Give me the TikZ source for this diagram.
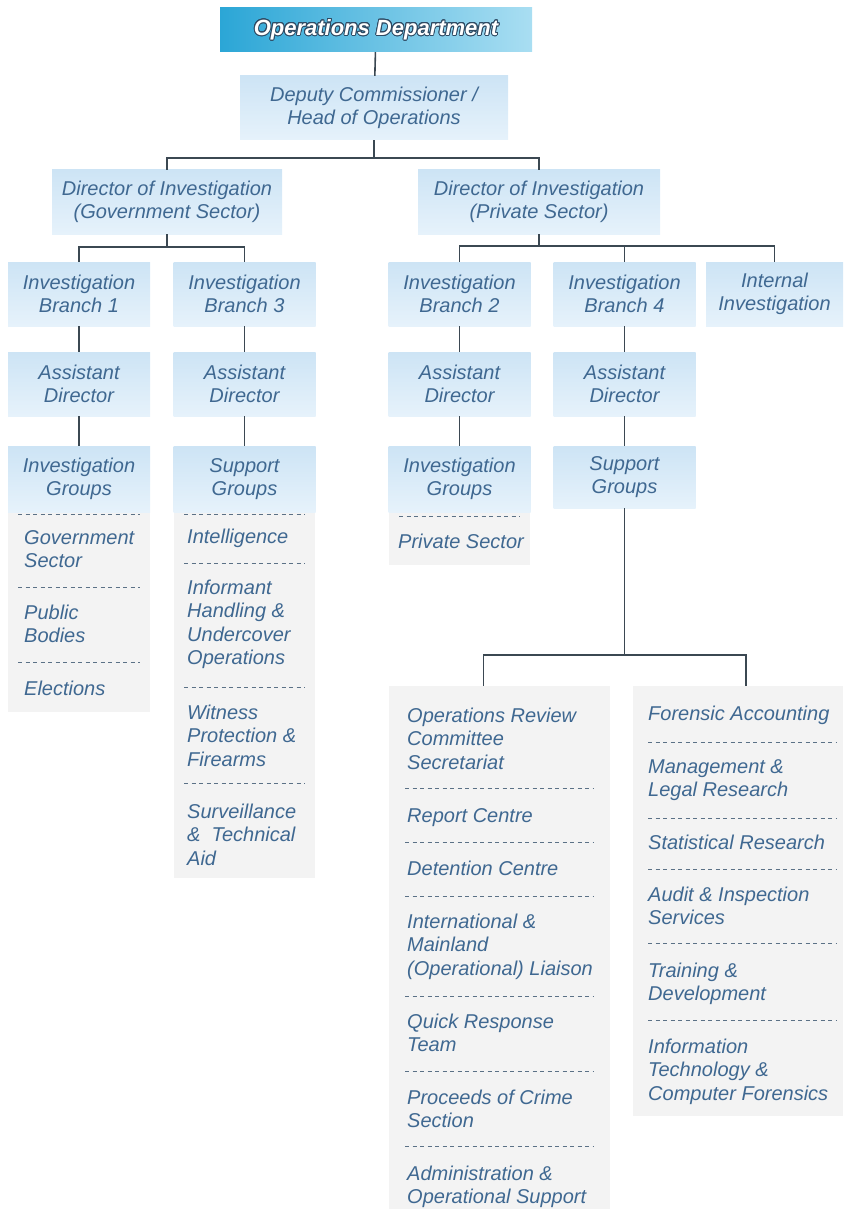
\documentclass[tikz,border=0pt]{standalone}
\usepackage{fontspec}
\setmainfont{Liberation Sans}
\usepackage[copies]{contour}
\usetikzlibrary{positioning, backgrounds}
\definecolor{opsleft}{HTML}{2BA6D6}
\definecolor{opsright}{HTML}{A9DEF2}
\definecolor{opsshade}{HTML}{2E4A63}
\definecolor{boxtop}{HTML}{CDE4F5}
\definecolor{boxbot}{HTML}{E6F2FB}
\definecolor{panelcol}{HTML}{F3F3F3}
\definecolor{textcol}{HTML}{3F6891}
\definecolor{linecol}{HTML}{3B4852}
\definecolor{sepcol}{HTML}{5B7186}
\contourlength{0.9pt}

\begin{document}
\begin{tikzpicture}[x=1pt, y=-1pt,
  ops/.style={left color=opsleft, right color=opsright, minimum width=312pt, minimum height=44pt,
    inner sep=0pt, text=white, font=\bfseries\itshape\fontsize{22}{24}\selectfont},
  box/.style={top color=boxtop, bottom color=boxbot, minimum width=142pt, minimum height=64pt,
    inner sep=0pt, align=center, text=textcol, font=\itshape\fontsize{20}{23.5}\selectfont},
  panel/.style={fill=panelcol, inner sep=0pt},
  item/.style={anchor=base west, align=left, inner sep=0pt, text=textcol,
    font=\itshape\fontsize{20}{23.5}\selectfont},
  conn/.style={draw=linecol, line width=1.6pt},
  sep/.style={draw=sepcol, dash pattern=on 4pt off 3.5pt, line width=0.9pt},
]
\useasboundingbox (0,0) rectangle (843,1209);

% Top of the chart
\node[ops] (opsdep) at (376,30) {\contour{opsshade}{Operations Department}};
\node[box, minimum width=268pt] (deputy) at (374,108) {Deputy Commissioner /\\Head of Operations};

% Two directors
\node[box, minimum width=230pt] (dirgov) at (167,202) {Director of Investigation\\(Government Sector)};
\node[box, minimum width=242pt] (dirpriv) at (539,202) {Director of Investigation\\(Private Sector)};

% Branches
\node[box] (br1) at (79,294) {Investigation\\Branch 1};
\node[box] (br3) at (244.5,294) {Investigation\\Branch 3};
\node[box] (br2) at (459.5,294) {Investigation\\Branch 2};
\node[box] (br4) at (624.5,294) {Investigation\\Branch 4};
\node[box, minimum width=137pt] (internal) at (774.5,294) {Internal\\Investigation};

% Assistant directors
\node[box] (ad1) at (79,384) {Assistant\\Director};
\node[box] (ad3) at (244.5,384) {Assistant\\Director};
\node[box] (ad2) at (459.5,384) {Assistant\\Director};
\node[box] (ad4) at (624.5,384) {Assistant\\Director};

% Grey panels under the group headers
\node[panel, minimum width=142pt, minimum height=200pt] (ig1list) at (79,612) {};
\node[panel, minimum width=141pt, minimum height=366pt] (sg3list) at (244.5,695) {};
\node[panel, minimum width=141pt, minimum height=53pt] (ig2list) at (459.5,538.5) {};
\node[panel, minimum width=221pt, minimum height=523pt] (listL) at (499.5,947.5) {};
\node[panel, minimum width=210pt, minimum height=430pt] (listR) at (738,901) {};

% Group headers
\node[box, minimum height=66pt] (ig1) at (79,479) {Investigation\\Groups};
\node[box, minimum height=66pt] (sg3) at (244.5,479) {Support\\Groups};
\node[box, minimum height=66pt] (ig2) at (459.5,479) {Investigation\\Groups};
\node[box, minimum height=62pt] (sg4) at (624.5,477) {Support\\Groups};

% Connectors
\draw[conn] (opsdep) -- (deputy);
\draw[conn] (deputy.south) -- ++(0,18) -| (dirgov.north);
\draw[conn] (deputy.south) -- ++(0,18) -| (dirpriv.north);
\draw[conn] (dirgov.south) -- ++(0,13) -| (br1.north);
\draw[conn] (dirgov.south) -- ++(0,13) -| (br3.north);
\draw[conn] (dirpriv.south) -- ++(0,12) -| (br2.north);
\draw[conn] (dirpriv.south) -- ++(0,12) -| (br4.north);
\draw[conn] (dirpriv.south) -- ++(0,12) -| (internal.north);
\foreach \a/\b in {br1/ad1, ad1/ig1, br3/ad3, ad3/sg3, br2/ad2, ad2/ig2, br4/ad4, ad4/sg4}
  \draw[conn] (\a) -- (\b);
\draw[conn] (sg4.south) -- ++(0,147) -| ([xshift=-16pt]listL.north);
\draw[conn] (sg4.south) -- ++(0,147) -| ([xshift=8pt]listR.north);

% Dashed separators
\foreach \y in {514,587,662} \draw[sep] (18,\y) -- (140,\y);
\foreach \y in {514,563,687,783} \draw[sep] (184,\y) -- (305,\y);
\draw[sep] (399,516) -- (520,516);
\foreach \y in {788,842,896,996,1071,1146} \draw[sep] (405,\y) -- (594,\y);
\foreach \y in {742,818,869,943,1020} \draw[sep] (648,\y) -- (836,\y);

% Items, Investigation Branch 1 (placed at the baseline of the last line)
\node[item] (govsec) at (24,567.5) {Government\\Sector};
\node[item] (pubbod) at (24,642.5) {Public\\Bodies};
\node[item] (elect) at (24,695) {Elections};

% Items, Investigation Branch 3
\node[item] (intel) at (187,543) {Intelligence};
\node[item] (inform) at (187,664.5) {Informant\\Handling \&\\Undercover\\Operations};
\node[item] (witness) at (187,766) {Witness\\Protection \&\\Firearms};
\node[item] (surv) at (187,865) {Surveillance\\\& ~Technical\\Aid};

% Items, Investigation Branch 2
\node[item] (privsec) at (398,548) {Private Sector};

% Items, Support Groups of Branch 4
\node[item] (orcs) at (407,769) {Operations Review\\Committee\\Secretariat};
\node[item] (report) at (407,822) {Report Centre};
\node[item] (detent) at (407,875) {Detention Centre};
\node[item] (liaison) at (407,975) {International \&\\Mainland\\(Operational) Liaison};
\node[item] (quick) at (407,1051.5) {Quick Response\\Team};
\node[item] (proceeds) at (407,1127.5) {Proceeds of Crime\\Section};
\node[item] (admin) at (407,1203.5) {Administration \&\\Operational Support};

\node[item] (forensic) at (648,720) {Forensic Accounting};
\node[item] (legal) at (648,796.5) {Management \&\\Legal Research};
\node[item] (stats) at (648,849) {Statistical Research};
\node[item] (audit) at (648,924.5) {Audit \& Inspection\\Services};
\node[item] (training) at (648,1000.5) {Training \&\\Development};
\node[item] (infotech) at (648,1100) {Information\\Technology \&\\Computer Forensics};

\end{tikzpicture}
\end{document}
